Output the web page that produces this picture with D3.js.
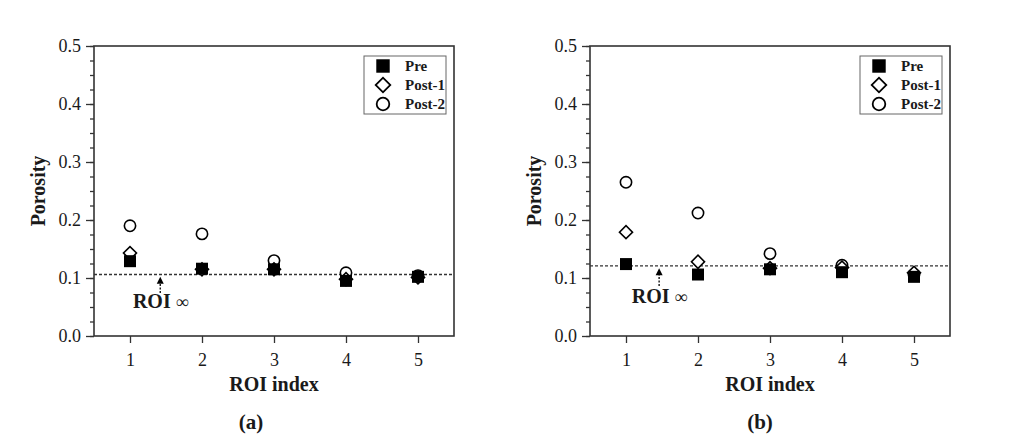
<!DOCTYPE html>
<html>
<head>
<meta charset="utf-8">
<script src="https://cdn.jsdelivr.net/npm/d3@7"></script>
<style>
  body { margin: 0; background: #fff; }
  text { font-family: "Liberation Serif", "Times New Roman", serif; fill: #1a1a1a; }
</style>
</head>
<body>
<script>
(function (d3) {
  "use strict";

  /***** Data *****/
  var roiIndex = [1, 2, 3, 4, 5];
  var yTicks = [0.0, 0.1, 0.2, 0.3, 0.4, 0.5];
  var seriesNames = ["Pre", "Post-1", "Post-2"];

  var preA   = [0.129, 0.116, 0.115, 0.095, 0.102];
  var post1A = [0.143, 0.115, 0.115, 0.098, 0.101];
  var post2A = [0.190, 0.176, 0.130, 0.109, 0.104];
  var refA = 0.106;

  var preB   = [0.124, 0.106, 0.115, 0.110, 0.102];
  var post1B = [0.179, 0.128, 0.117, 0.118, 0.109];
  var post2B = [0.265, 0.212, 0.142, 0.122, 0.106];
  var refB = 0.121;

  // annotation "ROI ∞": arrow x, arrow tip / tail, text anchor (data units)
  var arrowA = { x: 1.42, tip: 0.102, tail: 0.074, textX: 1.04, textY: 0.048 };
  var arrowB = { x: 1.46, tip: 0.117, tail: 0.086, textX: 1.08, textY: 0.057 };

  /***** Configuration *****/
  var width = 1024, height = 437;
  var plotW = 360, plotH = 290;
  var font = '"Liberation Serif", "Times New Roman", serif';

  var svg = d3.select("body").append("svg")
      .attr("width", width)
      .attr("height", height);

  var x = d3.scaleLinear().domain([0.5, 5.5]).range([0, plotW]);
  var y = d3.scaleLinear().domain([0, 0.5]).range([plotH, 0]);

  var symSquare = d3.symbol().type(d3.symbolSquare).size(144);
  var symCircle = d3.symbol().type(d3.symbolCircle).size(100);
  var symDiamond = d3.symbol().type(d3.symbolSquare).size(85);

  function drawMarker(g, name, cx, cy, scale) {
    var s = scale || 1;
    var p = g.append("path").attr("transform", "translate(" + cx + "," + cy + ") scale(" + s + ")");
    if (name === "Pre") {
      p.attr("d", symSquare()).attr("fill", "#000");
    } else if (name === "Post-1") {
      p.attr("d", symDiamond()).attr("transform", p.attr("transform") + " rotate(45)")
        .attr("fill", "#fff").attr("stroke", "#000").attr("stroke-width", 1.6);
    } else {
      p.attr("d", symCircle()).attr("fill", "#fff").attr("stroke", "#000").attr("stroke-width", 1.6);
    }
  }

  function drawPanel(left, top, series, ref, arrow, label, labelDx) {
    var g = svg.append("g").attr("transform", "translate(" + left + "," + top + ")");

    // minor y ticks
    g.append("g")
        .call(d3.axisLeft(y).tickValues(d3.range(0, 0.5001, 0.025)).tickSize(4).tickFormat(""))
        .call(function (a) { a.select(".domain").remove(); })
        .selectAll("line").attr("stroke", "#333").attr("stroke-width", 1.3);

    // major y ticks
    var ya = g.append("g")
        .call(d3.axisLeft(y).tickValues(yTicks).tickSize(8).tickPadding(5).tickFormat(d3.format(".1f")));
    ya.select(".domain").remove();
    ya.selectAll("line").attr("stroke", "#333").attr("stroke-width", 1.3);
    ya.selectAll("text").style("font-family", font).style("font-size", "18px").attr("fill", "#1a1a1a");

    // x ticks
    var xa = g.append("g").attr("transform", "translate(0," + plotH + ")")
        .call(d3.axisBottom(x).tickValues(roiIndex).tickSize(7).tickPadding(10).tickFormat(d3.format("d")));
    xa.select(".domain").remove();
    xa.selectAll("line").attr("stroke", "#333").attr("stroke-width", 1.3);
    xa.selectAll("text").style("font-family", font).style("font-size", "18px").attr("fill", "#1a1a1a");

    // frame
    g.append("rect")
        .attr("x", 0).attr("y", 0).attr("width", plotW).attr("height", plotH)
        .attr("fill", "none").attr("stroke", "#333").attr("stroke-width", 1.6);

    // reference line
    g.append("line")
        .attr("x1", x(0.5)).attr("x2", x(5.5))
        .attr("y1", y(ref)).attr("y2", y(ref))
        .attr("stroke", "#333").attr("stroke-width", 1.3)
        .attr("stroke-dasharray", "3,2");

    // markers: Post-2 under Post-1 under Pre
    [2, 1, 0].forEach(function (k) {
      var vals = series[k];
      roiIndex.forEach(function (r, i) {
        drawMarker(g, seriesNames[k], x(r), y(vals[i]));
      });
    });

    // arrow annotation
    var ax = x(arrow.x), tipY = y(arrow.tip), tailY = y(arrow.tail);
    g.append("line")
        .attr("x1", ax).attr("x2", ax).attr("y1", tailY).attr("y2", tipY + 5)
        .attr("stroke", "#000").attr("stroke-width", 1.3).attr("stroke-dasharray", "2,1.5");
    g.append("path")
        .attr("d", "M" + ax + "," + tipY + "L" + (ax - 3.5) + "," + (tipY + 7) + "L" + (ax + 3.5) + "," + (tipY + 7) + "Z")
        .attr("fill", "#000");
    var t = g.append("text")
        .attr("x", x(arrow.textX)).attr("y", y(arrow.textY))
        .style("font-size", "20px").style("font-weight", "bold");
    t.append("tspan").text("ROI ");
    t.append("tspan").style("font-weight", "normal").style("font-size", "18px").text("\u221E");

    // legend
    var lg = g.append("g").attr("transform", "translate(" + (plotW - 90) + ",10)");
    lg.append("rect").attr("width", 82).attr("height", 58)
        .attr("fill", "#fff").attr("stroke", "#666").attr("stroke-width", 1);
    seriesNames.forEach(function (name, i) {
      var ry = 10 + i * 19;
      drawMarker(lg, name, 19, ry, 1.12);
      lg.append("text").attr("x", 41).attr("y", ry + 5)
          .style("font-size", "15px").style("font-weight", "bold").text(name);
    });

    // axis titles
    g.append("text")
        .attr("transform", "translate(-56," + (plotH / 2) + ") rotate(-90)")
        .attr("text-anchor", "middle").attr("dominant-baseline", "central")
        .style("font-size", "20px").style("font-weight", "bold").text("Porosity");
    g.append("text")
        .attr("x", plotW / 2).attr("y", plotH + 55)
        .attr("text-anchor", "middle")
        .style("font-size", "20px").style("font-weight", "bold").text("ROI index");

    // panel label
    g.append("text")
        .attr("x", plotW / 2 + labelDx).attr("y", plotH + 93)
        .attr("text-anchor", "middle")
        .style("font-size", "21px").style("font-weight", "bold").text(label);
  }

  drawPanel(94, 46, [preA, post1A, post2A], refA, arrowA, "(a)", -23);
  drawPanel(590, 46, [preB, post1B, post2B], refB, arrowB, "(b)", -10);

})(d3);
</script>
</body>
</html>
